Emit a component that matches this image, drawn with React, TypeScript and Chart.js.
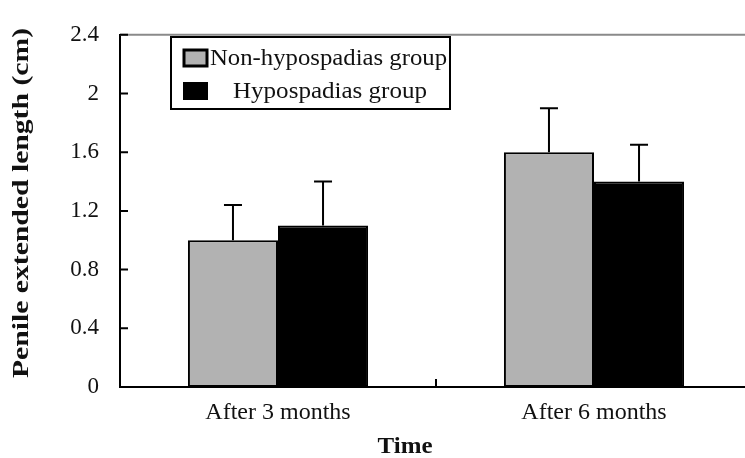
import React, { useEffect, useRef } from "react";
import { Chart, registerables } from "chart.js";

Chart.register(...registerables);

const categories = ["After 3 months", "After 6 months"];
const seriesNames = ["Non-hypospadias group", "Hypospadias group"];
const nonHypoValues = [1.0, 1.6];
const nonHypoErrors = [0.24, 0.3];
const hypoValues = [1.1, 1.4];
const hypoErrors = [0.3, 0.25];
const yTickLabels = ["0", "0.4", "0.8", "1.2", "1.6", "2", "2.4"];
const xTitle = "Time";
const yTitle = "Penile extended length (cm)";

const FONT = "'Liberation Serif', 'Times New Roman', serif";
const GRAY = "#b2b2b2";

function stretchedText(ctx: any, text: string, x: number, y: number, targetWidth: number, align: "left" | "center") {
  const w = ctx.measureText(text).width;
  const sx = targetWidth / w;
  ctx.save();
  ctx.translate(x, y);
  ctx.scale(sx, 1);
  ctx.textAlign = align;
  ctx.fillText(text, 0, 0);
  ctx.restore();
}

const errorBars = {
  id: "errorBars",
  afterDatasetsDraw(chart: any) {
    const ctx = chart.ctx;
    const yScale = chart.scales.y;
    const errs = [nonHypoErrors, hypoErrors];
    ctx.save();
    ctx.strokeStyle = "#000";
    ctx.lineWidth = 2;
    chart.data.datasets.forEach((ds: any, di: number) => {
      const meta = chart.getDatasetMeta(di);
      meta.data.forEach((bar: any, i: number) => {
        const v = ds.data[i];
        const top = yScale.getPixelForValue(v + errs[di][i]);
        ctx.beginPath();
        ctx.moveTo(bar.x, bar.y);
        ctx.lineTo(bar.x, top);
        ctx.moveTo(bar.x - 9, top);
        ctx.lineTo(bar.x + 9, top);
        ctx.stroke();
      });
    });
    ctx.restore();
  },
};

const decorations = {
  id: "decorations",
  afterDraw(chart: any) {
    const ctx = chart.ctx;
    const { left, right, top, bottom } = chart.chartArea;
    const yScale = chart.scales.y;
    const xScale = chart.scales.x;
    ctx.save();
    // top frame line
    ctx.strokeStyle = "#8a8a8a";
    ctx.lineWidth = 2;
    ctx.beginPath();
    ctx.moveTo(left, top);
    ctx.lineTo(right, top);
    ctx.stroke();
    // inward y ticks
    ctx.strokeStyle = "#000";
    ctx.beginPath();
    yScale.ticks.forEach((t: any) => {
      const py = yScale.getPixelForValue(t.value);
      ctx.moveTo(left, py);
      ctx.lineTo(left + 8, py);
    });
    // inward x tick between categories
    const mid = (xScale.getPixelForValue(0) + xScale.getPixelForValue(1)) / 2;
    ctx.moveTo(mid, bottom);
    ctx.lineTo(mid, bottom - 8);
    ctx.stroke();

    // legend
    ctx.lineWidth = 2;
    ctx.strokeRect(171, 37, 279, 72);
    ctx.fillStyle = GRAY;
    ctx.fillRect(184, 50, 23, 16);
    ctx.strokeStyle = "#000";
    ctx.lineWidth = 3;
    ctx.strokeRect(184, 50, 23, 16);
    ctx.fillStyle = "#000";
    ctx.fillRect(183, 82, 25, 18);
    ctx.font = `23px ${FONT}`;
    ctx.textBaseline = "middle";
    ctx.fillStyle = "#111";
    stretchedText(ctx, seriesNames[0], 210, 59, 237, "left");
    stretchedText(ctx, seriesNames[1], 233, 92, 194, "left");

    // axis titles
    ctx.font = `bold 23px ${FONT}`;
    stretchedText(ctx, xTitle, 405, 447, 55, "center");
    ctx.translate(22, 203);
    ctx.rotate(-Math.PI / 2);
    stretchedText(ctx, yTitle, 0, 0, 350, "center");
    ctx.restore();
  },
};

export default function App() {
  const ref = useRef<HTMLCanvasElement | null>(null);
  useEffect(() => {
    if (!ref.current) return;
    const chart = new Chart(ref.current, {
      type: "bar",
      data: {
        labels: categories,
        datasets: [
          {
            label: seriesNames[0],
            data: nonHypoValues,
            backgroundColor: GRAY,
            borderColor: "#000",
            borderWidth: 2,
            borderSkipped: false,
            barPercentage: 1,
            categoryPercentage: 0.57,
          },
          {
            label: seriesNames[1],
            data: hypoValues,
            backgroundColor: "#000",
            borderColor: "#000",
            borderWidth: 2,
            borderSkipped: false,
            barPercentage: 1,
            categoryPercentage: 0.57,
          },
        ],
      },
      options: {
        responsive: false,
        animation: false,
        layout: { padding: { top: 17, right: 8, left: 0, bottom: 0 } },
        plugins: {
          legend: { display: false },
          tooltip: { enabled: false },
        },
        scales: {
          x: {
            grid: { display: false, drawTicks: false },
            border: { display: true, color: "#000", width: 2 },
            ticks: {
              font: { family: FONT, size: 24 },
              color: "#111",
              padding: 11,
              maxRotation: 0,
            },
            afterFit: (s: any) => {
              s.height = 71;
            },
          },
          y: {
            min: 0,
            max: 2.4,
            grid: { display: false, drawTicks: false },
            border: { display: true, color: "#000", width: 2 },
            ticks: {
              stepSize: 0.4,
              font: { family: FONT, size: 23 },
              color: "#111",
              padding: 21,
              callback: (_v: any, i: number) => yTickLabels[i],
            },
            afterFit: (s: any) => {
              s.width = 120;
            },
          },
        },
      },
      plugins: [errorBars, decorations],
    });
    return () => chart.destroy();
  }, []);
  return (
    <div
      style={{
        position: "fixed",
        left: 0,
        top: 0,
        width: 745,
        height: 458,
        overflow: "hidden",
        background: "#fff",
      }}
    >
      <canvas ref={ref} width={760} height={458} />
    </div>
  );
}
